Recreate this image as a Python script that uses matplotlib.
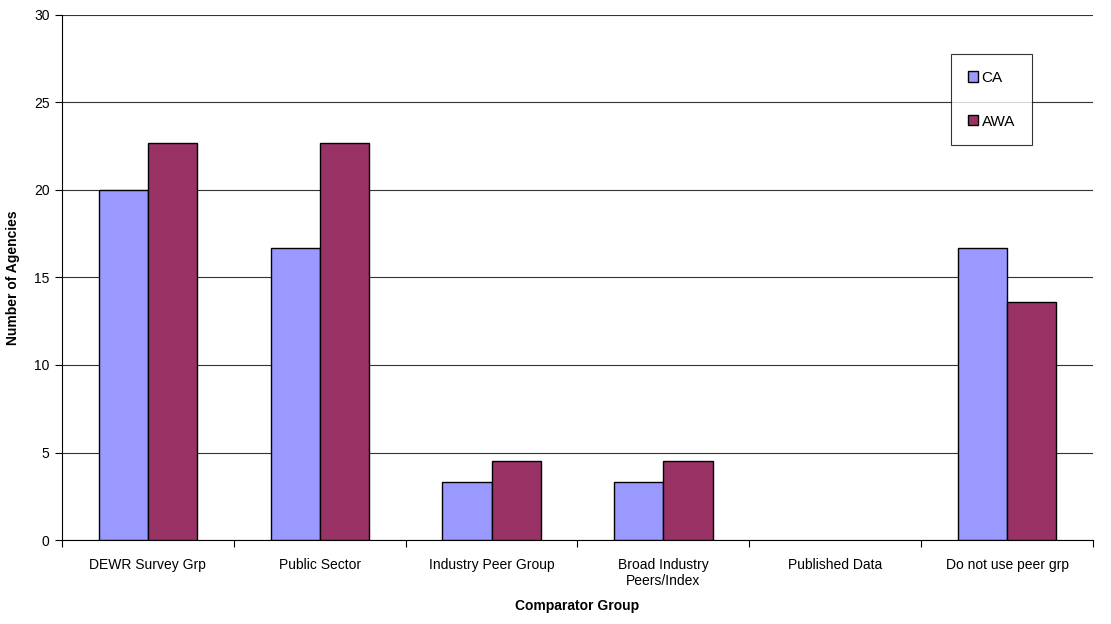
import numpy as np
import matplotlib
matplotlib.use('Agg')
import matplotlib.pyplot as plt

plt.rcParams['font.family'] = ['Liberation Sans', 'DejaVu Sans']

categories = ["DEWR Survey Grp", "Public Sector", "Industry Peer Group",
              "Broad Industry\nPeers/Index", "Published Data", "Do not use peer grp"]
ca_values = [20.0, 16.7, 3.3, 3.3, 0.0, 16.7]
awa_values = [22.7, 22.7, 4.5, 4.5, 0.0, 13.6]
y_ticks = [0, 5, 10, 15, 20, 25, 30]

fig = plt.figure(figsize=(11.11, 6.24), dpi=100)
ax = fig.add_axes([0.0558, 0.1346, 0.928, 0.8414])

x = np.arange(len(categories))
bar_w = 1 / 3.5
# empty bars get no outline, like the original
ca_lw = [1 if v > 0 else 0 for v in ca_values]
awa_lw = [1 if v > 0 else 0 for v in awa_values]
ax.bar(x - bar_w / 2, ca_values, width=bar_w, color='#9999ff', edgecolor='black',
       linewidth=ca_lw, label='CA', zorder=3)
ax.bar(x + bar_w / 2, awa_values, width=bar_w, color='#993366', edgecolor='black',
       linewidth=awa_lw, label='AWA', zorder=3)

ax.set_xlim(-0.5, len(categories) - 0.5)
ax.set_ylim(0, 30)
ax.set_yticks(y_ticks)
ax.yaxis.grid(True, color='#333333', linewidth=0.8, zorder=0)
ax.set_axisbelow(True)

# category ticks sit at the boundaries, labels at the centres
ax.set_xticks(np.arange(len(categories) + 1) - 0.5)
ax.set_xticklabels([])
ax.set_xticks(x, minor=True)
ax.set_xticklabels(categories, minor=True, fontsize=10)
ax.tick_params(axis='x', which='minor', length=0, pad=13)
ax.tick_params(axis='x', which='major', length=5, direction='out', color='black')
ax.tick_params(axis='y', length=5, direction='out', labelsize=10, pad=4)

for s in ['top', 'right']:
    ax.spines[s].set_visible(False)
ax.spines['left'].set_color('black')
ax.spines['bottom'].set_color('black')

ax.set_xlabel('Comparator Group', fontsize=10, fontweight='bold', labelpad=8)
ax.set_ylabel('Number of Agencies', fontsize=10, fontweight='bold', labelpad=10)

leg = ax.legend(loc='upper left', bbox_to_anchor=(0.856, 0.9135), bbox_transform=fig.transFigure,
                fontsize=11, frameon=True, fancybox=False, edgecolor='black',
                handlelength=0.65, handleheight=0.65, handletextpad=0.25,
                labelspacing=1.95, borderpad=1.1, borderaxespad=0)
leg.get_frame().set_linewidth(0.8)

fig.savefig('out.png', dpi=100)
